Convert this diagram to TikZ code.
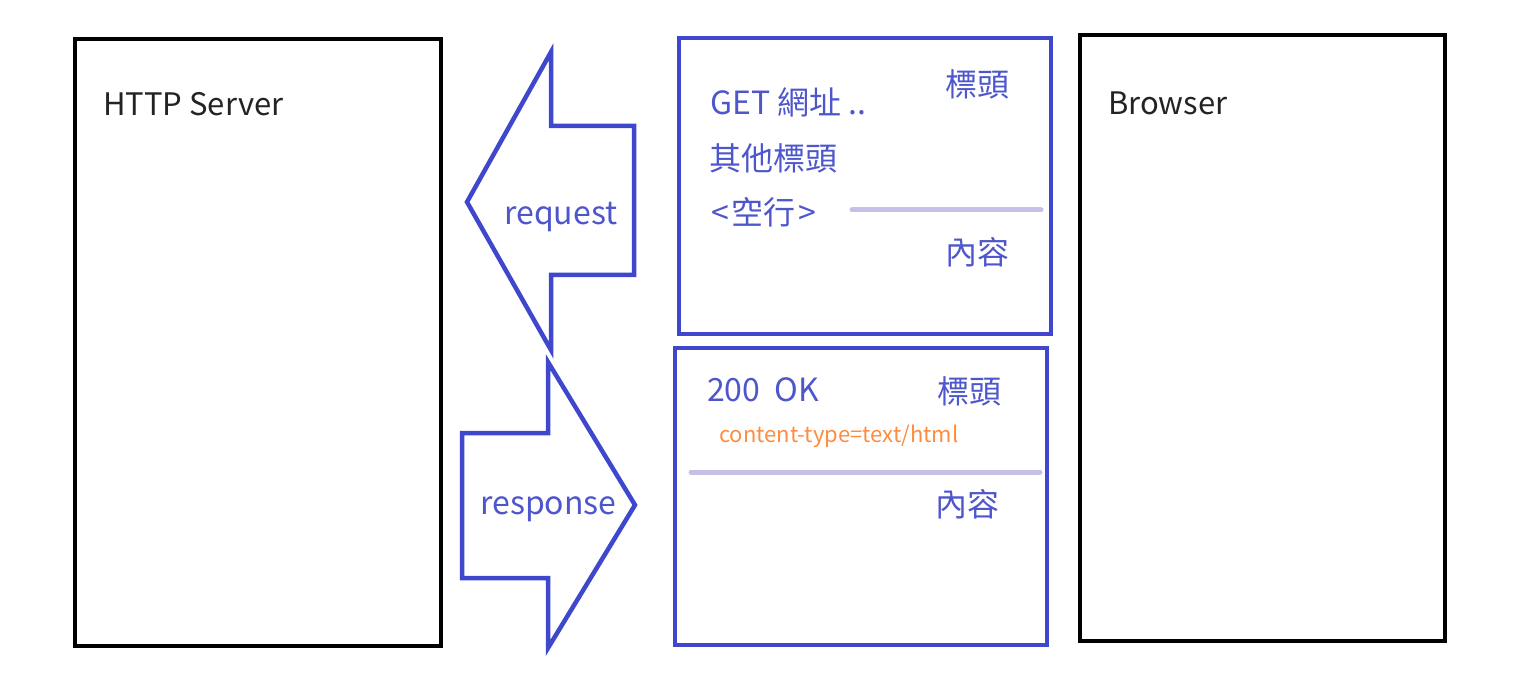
\documentclass[tikz,border=0pt]{standalone}
\usepackage{fontspec}
\setmainfont{Noto Sans CJK TC}
\definecolor{indigo}{RGB}{63,72,204}
\definecolor{inktext}{RGB}{78,86,204}
\definecolor{darktext}{RGB}{35,35,35}
\definecolor{lavender}{RGB}{200,191,231}
\definecolor{tangerine}{RGB}{255,140,62}
\tikzset{
  panel/.style={draw=black, line width=4.5pt},
  msgbox/.style={draw=indigo, line width=4.5pt},
  bigarrow/.style={draw=indigo, line width=4.5pt, line join=miter},
  divider/.style={draw=lavender, line width=5pt, line cap=round},
  title/.style={inner sep=0pt, anchor=base west, text=darktext, font=\fontsize{31}{37}\selectfont},
  arrowlabel/.style={inner sep=0pt, anchor=base west, text=inktext, font=\fontsize{32}{38}\selectfont},
  msgtext/.style={inner sep=0pt, anchor=base west, text=inktext, font=\fontsize{32}{38}\selectfont},
  hdrtext/.style={inner sep=0pt, anchor=base west, text=tangerine, font=\fontsize{22}{27}\selectfont},
}
\begin{document}
\begin{tikzpicture}[x=1pt, y=-1pt]
  \useasboundingbox (0,0) rectangle (1514,692);

  % server and browser panels
  \draw[panel] (75,39) rectangle (441,646);
  \node[title] (server) at (103,116) {HTTP Server};
  \draw[panel] (1080,35) rectangle (1445,641);
  \node[title] (browser) at (1108,115) {Browser};

  % request arrow (pointing left)
  \draw[bigarrow] (467,202) -- (551,52) -- (551,126) -- (634,126)
    -- (634,275) -- (551,275) -- (551,350) -- cycle;
  \node[arrowlabel] (reqlabel) at (504,225) {request};

  % response arrow (pointing right)
  \draw[bigarrow] (462,433) -- (548,433) -- (548,362) -- (635,505)
    -- (548,648) -- (548,578) -- (462,578) -- cycle;
  \node[arrowlabel] (reslabel) at (480,514) {response};

  % request message
  \draw[msgbox] (679,38) rectangle (1051,334);
  \node[msgtext] (getline) at (710,115) {GET 網址 ..};
  \node[msgtext] (reqhead) at (945,97) {標頭};
  \node[msgtext] (otherhdr) at (709,171) {其他標頭};
  \node[msgtext] (blank) at (711,225) {<\kern3pt 空行\kern3pt >};
  \draw[divider] (852,210) -- (1041,210);
  \node[msgtext] (reqbody) at (945,265) {內容};

  % response message
  \draw[msgbox] (675,348) rectangle (1047,645);
  \node[msgtext] (status) at (707,401) {200\ \ OK};
  \node[msgtext] (reshead) at (937,403) {標頭};
  \node[hdrtext] (ctype) at (719,442) {content-type=text/html};
  \draw[divider] (691,472) -- (1040,472);
  \node[msgtext] (resbody) at (935,516) {內容};
\end{tikzpicture}
\end{document}
